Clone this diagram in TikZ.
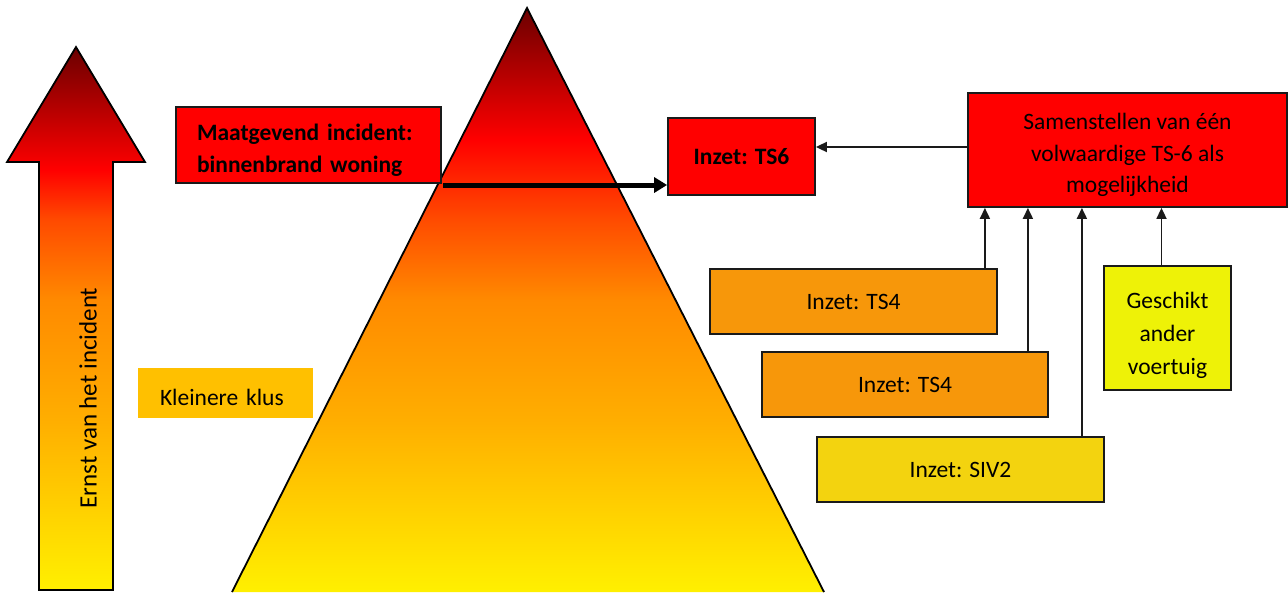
\documentclass[tikz,border=0pt]{standalone}
\usepackage{fontspec}
\setmainfont{Carlito}
\usetikzlibrary{arrows.meta}
\definecolor{cA}{HTML}{6B0000}
\definecolor{cB}{HTML}{FF0000}
\definecolor{cC}{HTML}{FF4A00}
\definecolor{cD}{HTML}{FF8A00}
\definecolor{cE}{HTML}{FFAE00}
\definecolor{cF}{HTML}{FFF000}
\definecolor{boxred}{HTML}{FF0000}
\definecolor{boxorange}{HTML}{F7970A}
\definecolor{boxgold}{HTML}{F3D30F}
\definecolor{boxlemon}{HTML}{EEF207}
\definecolor{boxamber}{HTML}{FFC000}
\definecolor{edge}{HTML}{1A1A1A}
\pgfdeclareverticalshading{arrowshade}{100bp}{color(0bp)=(cF); color(25bp)=(cF); color(40.7bp)=(cE); color(51.7bp)=(cD); color(59.1bp)=(cC); color(63.7bp)=(cB); color(75bp)=(cA); color(100bp)=(cA)}
\pgfdeclareverticalshading{triashade}{100bp}{color(0bp)=(cF); color(25bp)=(cF); color(39.7bp)=(cE); color(50bp)=(cD); color(57bp)=(cC); color(63.7bp)=(cB); color(75bp)=(cA); color(100bp)=(cA)}
\begin{document}
\begin{tikzpicture}[x=1pt,y=-1pt,
  txt/.style={font=\fontsize{23.5}{31}\selectfont},
  box/.style={txt, draw=edge, line width=1.8pt, inner sep=0pt, align=center},
  boxtext/.style={txt, inner sep=0pt, align=center},
  conn/.style={draw=edge, line width=1.8pt},
  tip/.style={-{Triangle[length=11pt,width=10pt]}}]
\useasboundingbox (0,0) rectangle (1288,592);
% big arrow
\shade[shading=arrowshade, draw=black, line width=1.8pt]
  (76,47) -- (145,162) -- (113,162) -- (113,590) -- (39,590) -- (39,162) -- (7,162) -- cycle;
\node[txt, font=\fontsize{25}{31}\selectfont, rotate=90] (ernst) at (88,398) {Ernst van het incident};
% pyramid
\shade[shading=triashade] (527,8) -- (824,592) -- (232,592) -- cycle;
\draw[black, line width=1.8pt] (232,592) -- (527,8) -- (824,592);
% boxes
\node[box, fill=boxred, minimum width=265pt, minimum height=76pt,
  label={[boxtext, font=\fontsize{23.5}{32}\selectfont\bfseries, align=left, text width=223pt, yshift=-5pt]center:{Maatgevend incident:\\binnenbrand woning}}]
  (maat) at (308.5,145) {};
\node[fill=boxamber, minimum width=175pt, minimum height=50pt, inner sep=0pt,
  label={[boxtext, align=left, text width=131pt, yshift=-4pt]center:{Kleinere klus}}]
  (klus) at (225.5,393) {};
\node[box, fill=boxred, font=\fontsize{23.5}{31}\selectfont\bfseries, minimum width=147pt, minimum height=77pt]
  (ts6) at (741.5,156.5) {Inzet: TS6};
\node[box, fill=boxred, minimum width=319pt, minimum height=114pt,
  label={[boxtext, font=\fontsize{23.5}{31.5}\selectfont, yshift=-5pt]center:{Samenstellen van één\\volwaardige TS-6 als\\mogelijkheid}}]
  (sam) at (1127.5,150) {};
\node[box, fill=boxorange, minimum width=287pt, minimum height=65pt] (ts4a) at (853.5,301.5) {Inzet: TS4};
\node[box, fill=boxorange, minimum width=286pt, minimum height=65pt] (ts4b) at (905,384.5) {Inzet: TS4};
\node[box, fill=boxgold, minimum width=287pt, minimum height=65pt] (siv) at (960.5,469.5) {Inzet: SIV2};
\node[box, fill=boxlemon, minimum width=127pt, minimum height=124pt,
  label={[boxtext, font=\fontsize{23.5}{33}\selectfont, yshift=-7pt]center:{Geschikt\\ander\\voertuig}}]
  (ges) at (1167.5,328) {};
% connectors
\coordinate (thick) at (443,185);
\draw[line width=5pt, -{Triangle[length=13pt,width=15pt]}] (thick) -- (thick -| ts6.west);
\draw[conn, tip] ([yshift=3pt]sam.west) -- ([yshift=3pt]sam.west -| ts6.east);
\draw[conn, tip] ([xshift=-13pt]ts4a.north east) -- ([xshift=-13pt]ts4a.north east |- sam.south);
\draw[conn, tip] ([xshift=-21pt]ts4b.north east) -- ([xshift=-21pt]ts4b.north east |- sam.south);
\draw[conn, tip] ([xshift=-23pt]siv.north east) -- ([xshift=-23pt]siv.north east |- sam.south);
\draw[conn, tip] ([xshift=-6pt]ges.north) -- ([xshift=-6pt]ges.north |- sam.south);
\end{tikzpicture}
\end{document}
